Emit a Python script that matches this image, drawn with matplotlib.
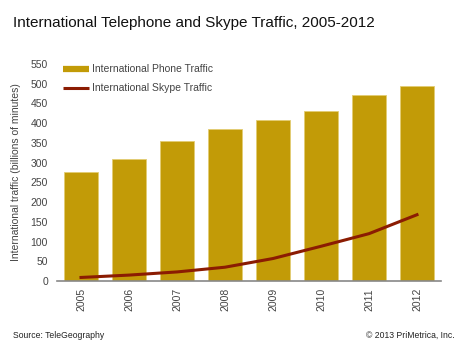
import numpy as np
import matplotlib.pyplot as plt
from matplotlib.lines import Line2D

years = ["2005", "2006", "2007", "2008", "2009", "2010", "2011", "2012"]
phone_traffic = [277, 310, 355, 385, 409, 431, 471, 494]
skype_traffic = [9, 15, 23, 35, 57, 88, 120, 168]

BAR_COLOR = "#c29b07"
LINE_COLOR = "#8b1c02"
TEXT_COLOR = "#444444"

plt.rcParams["font.family"] = ["Liberation Sans", "DejaVu Sans"]

fig = plt.figure(figsize=(4.68, 3.51), dpi=100)
ax = fig.add_axes([0.1218, 0.1994, 0.8205, 0.6183])

x = np.arange(len(years))
ax.bar(x, phone_traffic, width=0.7, color=BAR_COLOR, edgecolor="#e3cc73",
       linewidth=0.6, zorder=2)
ax.plot(x, skype_traffic, color=LINE_COLOR, linewidth=2.2, zorder=3)

ax.set_xlim(-0.5, 7.5)
ax.set_ylim(0, 550)
ax.set_yticks(range(0, 551, 50))
ax.set_xticks(x)
ax.set_xticklabels(years, rotation=90)
ax.tick_params(axis="both", length=0, labelsize=7.5, colors=TEXT_COLOR)
ax.tick_params(axis="y", pad=6.5)
ax.tick_params(axis="x", pad=5)

for side in ["top", "right", "left"]:
    ax.spines[side].set_visible(False)
ax.spines["bottom"].set_color("#888888")
ax.spines["bottom"].set_linewidth(1.2)

ax.set_ylabel("International traffic (billions of minutes)", fontsize=7.5,
              color=TEXT_COLOR, labelpad=7)

# legend proxies: thin bar swatch + line
handles = [Line2D([], [], color=BAR_COLOR, linewidth=4.5, solid_capstyle="butt"),
           Line2D([], [], color=LINE_COLOR, linewidth=2.2, solid_capstyle="butt")]
labels = ["International Phone Traffic", "International Skype Traffic"]
leg = ax.legend(handles, labels, loc="upper left", bbox_to_anchor=(0.0, 1.027),
                frameon=False, fontsize=7.5, handlelength=2.5, handletextpad=0.3,
                labelspacing=0.85, borderaxespad=0.2)
for t in leg.get_texts():
    t.set_color(TEXT_COLOR)

fig.text(0.028, 0.935, "International Telephone and Skype Traffic, 2005-2012",
         fontsize=11, color="#111111", va="center", ha="left")
fig.text(0.028, 0.045, "Source: TeleGeography", fontsize=6.2,
         color="#222222", va="center", ha="left")
fig.text(0.972, 0.045, "\u00a9 2013 PriMetrica, Inc.", fontsize=6.2,
         color="#222222", va="center", ha="right")

fig.savefig("out.png", dpi=100)
